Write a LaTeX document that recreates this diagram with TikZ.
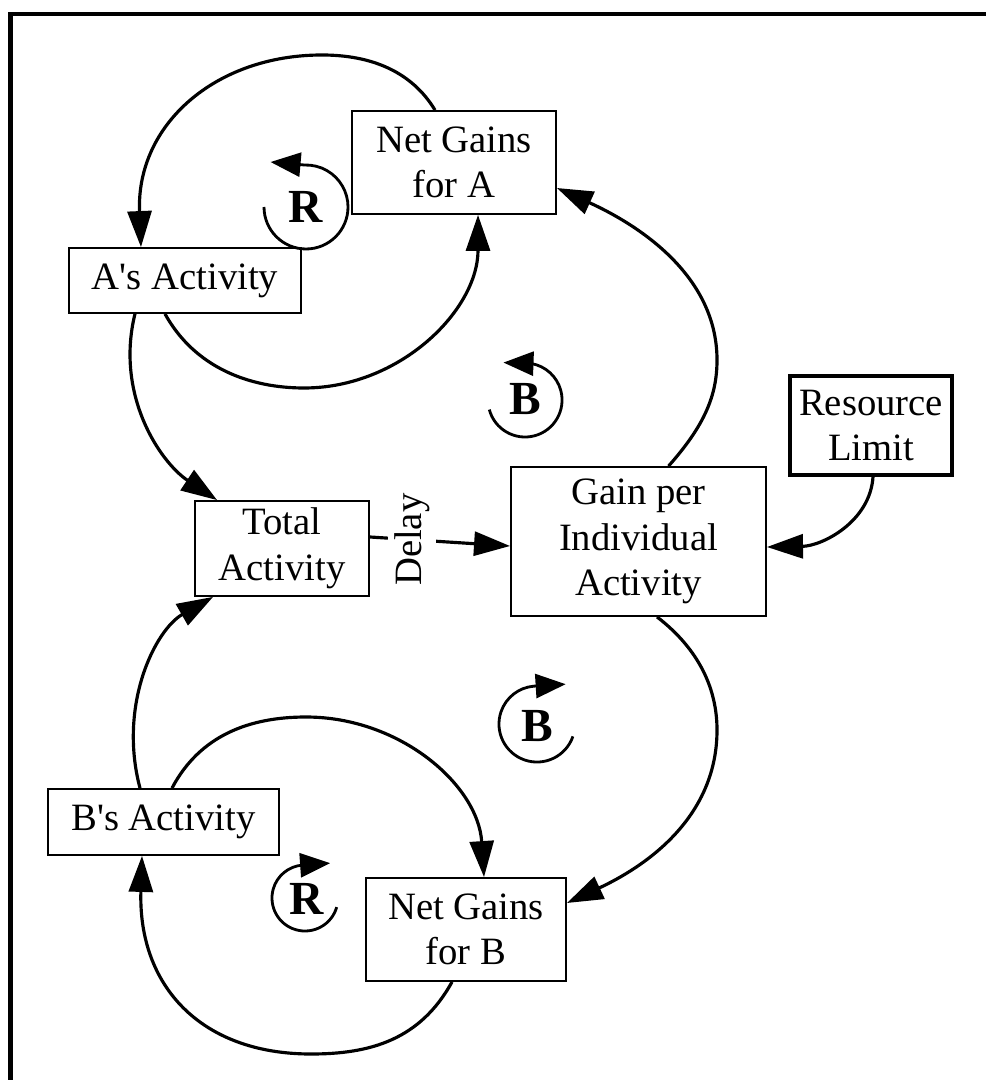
\documentclass[tikz,border=0pt]{standalone}
\usepackage{fontspec}
\setmainfont{Liberation Serif}
\usetikzlibrary{arrows.meta}

\begin{document}
\begin{tikzpicture}[x=0.01cm, y=-0.01cm,
        varbox/.style={draw, line width=0.5pt, align=center, inner sep=0pt,
            font=\fontsize{11}{13}\selectfont},
        link/.style={line width=0.9pt, -{Triangle[length=0.36cm, width=0.24cm]}},
        loopsign/.style={line width=0.8pt, -{Triangle[length=0.3cm, width=0.24cm]}},
        looplabel/.style={inner sep=0pt, font=\fontsize{13.5}{14}\selectfont\bfseries}]
        \useasboundingbox (0,0) rectangle (985,1080);

        % frame
        \draw[line width=0.04cm] (10.5,1090) -- (10.5,14) -- (995,14);

        % variables
        \node[varbox, minimum width=2.04cm, minimum height=1.03cm] (gainsA) at (454,162.5) {Net Gains\\for A};
        \node[varbox, minimum width=2.32cm, minimum height=0.65cm] (actA) at (185,280.5) {A\textquotesingle s Activity};
        \node[varbox, minimum width=1.74cm, minimum height=0.95cm] (total) at (282,548.5) {Total\\Activity};
        \node[varbox, minimum width=2.55cm, minimum height=1.49cm] (gain) at (638.5,541.5) {Gain per\\Individual\\Activity};
        \node[varbox, line width=1pt, minimum width=1.62cm, minimum height=0.99cm] (limit) at (871,425.5) {Resource\\Limit};
        \node[varbox, minimum width=2.31cm, minimum height=0.66cm] (actB) at (163.5,822) {B\textquotesingle s Activity};
        \node[varbox, minimum width=2.0cm, minimum height=1.03cm] (gainsB) at (466,929.5) {Net Gains\\for B};

        % links of the A side
        \draw[link] ([xshift=-0.19cm]gainsA.north) .. controls (412,72) and (372,55) .. (322,55)
            .. controls (215,55) and (136,125) .. ([xshift=-0.44cm]actA.north);
        \draw[link] ([xshift=-0.2cm]actA.south) .. controls (195,368) and (250,388) .. (304,388)
            .. controls (400,388) and (478,310) .. ([xshift=0.24cm]gainsA.south);
        \draw[link] ([xshift=-0.5cm]actA.south) .. controls (115,395) and (160,462) .. ([xshift=0.23cm]total.north west);

        % links of the B side
        \draw[link] ([xshift=-0.235cm]actB.north) .. controls (118,705) and (155,630) .. ([xshift=0.19cm]total.south west);
        \draw[link] ([xshift=0.085cm]actB.north) .. controls (200,735) and (250,717) .. (306,717)
            .. controls (400,717) and (478,785) .. ([xshift=0.18cm]gainsB.north);
        \draw[link] ([xshift=-0.14cm]gainsB.south) .. controls (420,1040) and (370,1054) .. (311,1054)
            .. controls (200,1054) and (138,985) .. ([xshift=-0.215cm]actB.south);

        % links of the gain per activity
        \draw[link] ([yshift=0.115cm]total.east) -- node[pos=0.3, rotate=90, fill=white, inner sep=0.06cm,
            font=\fontsize{11}{13}\selectfont] (delay) {Delay} ([yshift=-0.045cm]gain.west);
        \draw[link] ([xshift=0.3cm]gain.north) .. controls (705,425) and (717,395) .. (717,360)
            .. controls (717,272) and (632,222) .. ([yshift=-0.255cm]gainsA.east);
        \draw[link] ([xshift=0.185cm]gain.south) .. controls (700,650) and (717,690) .. (717,730)
            .. controls (717,820) and (642,868) .. ([yshift=0.265cm]gainsB.east);
        \draw[link] ([xshift=0.02cm]limit.south) .. controls (870,522) and (822,546) .. ([yshift=-0.055cm]gain.east);

        % loop signs
        \node[looplabel] (loopRA) at (306,207) {R};
        \draw[loopsign] (264,207) arc[start angle=180, end angle=-92, radius=42] -- ++(-34,-3);
        \node[looplabel] (loopBA) at (525,399) {B};
        \draw[loopsign] (489.3,409.6) arc[start angle=165, end angle=-80, radius=37] -- ++(-28,-1);
        \node[looplabel] (loopBB) at (537,726) {B};
        \draw[loopsign] (572.9,736.4) arc[start angle=19, end angle=265, radius=38] -- ++(32,-2);
        \node[looplabel] (loopRB) at (307,899) {R};
        \draw[loopsign] (336.7,907.1) arc[start angle=16, end angle=265, radius=33] -- ++(28,-2);
\end{tikzpicture}
\end{document}
